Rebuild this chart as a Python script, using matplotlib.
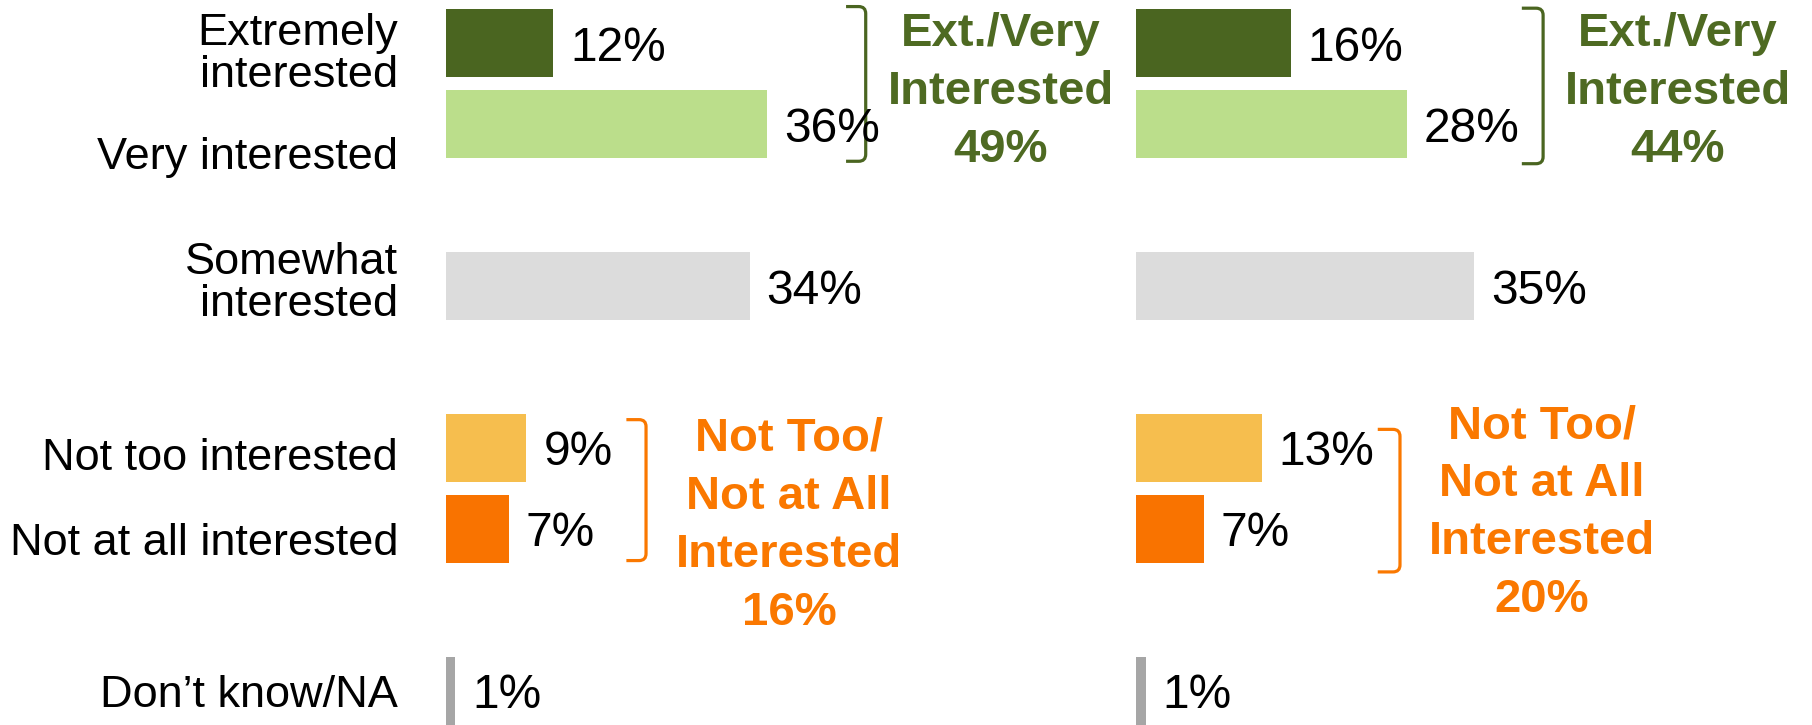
import matplotlib
matplotlib.use("Agg")
import matplotlib.pyplot as plt
from matplotlib.path import Path
from matplotlib.patches import PathPatch

# ---- data -------------------------------------------------------------
categories = ["Extremely\ninterested", "Very interested", "Somewhat\ninterested",
              "Not too interested", "Not at all interested", "Don\u2019t know/NA"]
values_left = [12, 36, 34, 9, 7, 1]
values_right = [16, 28, 35, 13, 7, 1]
top_box_left, top_box_right = 49, 44
bottom_box_left, bottom_box_right = 16, 20
top_box_text = "Ext./Very\nInterested\n{}%"
bottom_box_text = "Not Too/\nNot at All\nInterested\n{}%"

# ---- style ------------------------------------------------------------
bar_colors = ["#4A6520", "#BBDE8B", "#DCDCDC", "#F6BE4E", "#F97300", "#A6A6A6"]
green_txt = "#4E6A22"
orange_txt = "#FA7800"

plt.rcParams['font.family'] = ['Liberation Sans', 'DejaVu Sans']

W, H, DPI = 1812, 725, 100
fig = plt.figure(figsize=(W / DPI, H / DPI), dpi=DPI)
fig.patch.set_facecolor("white")

rows = [0, 1, 3, 5, 6, 8]
bar_h = 0.84
# vertical offsets of the category labels (top of first line, in rows)
label_dy = [-0.374, 0.16, -0.543, -0.123, -0.074, -0.198]

SPAN = 45


def make_axes(x0_px, px_per_pct):
    ax = fig.add_axes([x0_px / W, 0, SPAN * px_per_pct / W, 716 / H])
    ax.set_xlim(0, SPAN)
    ax.set_ylim(8.42, -0.42)
    ax.axis("off")
    return ax


ax_l = make_axes(446, 8.93)
ax_r = make_axes(1136, 9.67)


def draw_bars(ax, vals):
    ax.barh(rows, vals, height=bar_h, color=bar_colors, linewidth=0)
    for r, v in zip(rows, vals):
        ax.annotate(f"{v}%", xy=(v, r), xytext=(17, 0), textcoords="offset pixels",
                    ha="left", va="center_baseline", fontsize=34.5, color="black")


def bracket(ax, x_arm, x_spine, y_top, y_bot, color, r_px=7):
    p0 = ax.transData.transform((0, 0))
    ppx = ax.transData.transform((1, 0))[0] - p0[0]
    ppy = abs(ax.transData.transform((0, 1))[1] - p0[1])
    rx, ry = r_px / ppx, r_px / ppy
    verts = [(x_arm, y_top), (x_spine - rx, y_top), (x_spine, y_top), (x_spine, y_top + ry),
             (x_spine, y_bot - ry), (x_spine, y_bot), (x_spine - rx, y_bot), (x_arm, y_bot)]
    codes = [Path.MOVETO, Path.LINETO, Path.CURVE3, Path.CURVE3,
             Path.LINETO, Path.CURVE3, Path.CURVE3, Path.LINETO]
    ax.add_patch(PathPatch(Path(verts, codes), fill=False, edgecolor=color,
                           linewidth=2.3, clip_on=False, capstyle="butt"))


draw_bars(ax_l, values_left)
draw_bars(ax_r, values_right)

# category labels
for lab, r, dy in zip(categories, rows, label_dy):
    ax_l.annotate(lab, xy=(0, r + dy), xytext=(-48, 0), textcoords="offset pixels",
                  ha="right", va="top", fontsize=32.5, linespacing=1.03, color="black")

# brackets
bracket(ax_l, 44.8, 47.0, -0.45, 1.46, bar_colors[0])
bracket(ax_r, 39.9, 42.1, -0.43, 1.49, bar_colors[0])
bracket(ax_l, 20.2, 22.4, 4.65, 6.39, orange_txt)
bracket(ax_r, 25.0, 27.3, 4.77, 6.53, orange_txt)

# group totals
ax_l.text(62.15, -0.383, top_box_text.format(top_box_left), ha="center", va="top",
          fontsize=34, fontweight="bold", color=green_txt, linespacing=1.41)
ax_r.text(56.0, -0.383, top_box_text.format(top_box_right), ha="center", va="top",
          fontsize=34, fontweight="bold", color=green_txt, linespacing=1.41)
ax_l.text(38.4, 4.614, bottom_box_text.format(bottom_box_left), ha="center", va="top",
          fontsize=34, fontweight="bold", color=orange_txt, linespacing=1.41)
ax_r.text(42.0, 4.457, bottom_box_text.format(bottom_box_right), ha="center", va="top",
          fontsize=34, fontweight="bold", color=orange_txt, linespacing=1.41)

fig.savefig("out.png", dpi=DPI, facecolor="white")
